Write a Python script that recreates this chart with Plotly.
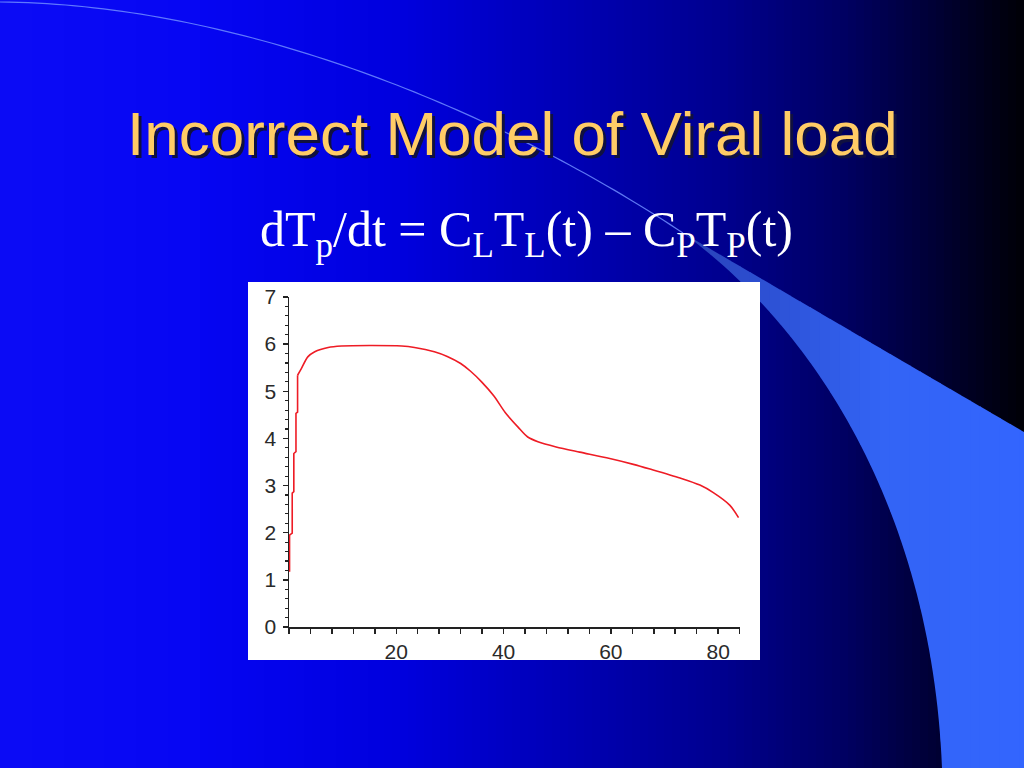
import plotly.graph_objects as go
import numpy as np

# ---- data ----
t_days = [0.1, 0.1, 0.6, 0.6, 0.9, 0.9, 1.3, 1.3, 1.6, 1.6, 2.3, 3.5, 4.8, 7.3, 9.8, 15.0,
          21.0, 23.4, 27.1, 29.5, 32.0, 33.8, 35.9, 38.2, 40.3, 42.7, 44.5, 46.4, 49.8,
          54.2, 59.2, 64.2, 67.3, 72.9, 76.6, 79.1, 82.2, 83.8]
viral_load = [1.17, 1.95, 1.99, 2.84, 2.87, 3.68, 3.72, 4.53, 4.56, 5.34, 5.48, 5.73, 5.84,
              5.93, 5.96, 5.97, 5.96, 5.93, 5.84, 5.74, 5.59, 5.43, 5.20, 4.90, 4.55, 4.24,
              4.03, 3.93, 3.82, 3.71, 3.59, 3.45, 3.35, 3.16, 3.01, 2.85, 2.58, 2.32]
x_tick_vals = [20, 40, 60, 80]
y_tick_vals = [0, 1, 2, 3, 4, 5, 6, 7]

title_text = "Incorrect Model of Viral load"
equation_text = ("dT<sub>p</sub>/dt = C<sub>L</sub>T<sub>L</sub>(t) \u2013 "
                 "C<sub>P</sub>T<sub>P</sub>(t)")

W, H = 1024, 768
N_STEP = 10  # the first points form the steep staircase rise


def px(x):
    return x / W


def py(y):
    return 1 - y / H


def interp_color(x, stops):
    xs = [s[0] for s in stops]
    cols = np.array([s[1] for s in stops], dtype=float)
    r = np.interp(x, xs, cols[:, 0])
    g = np.interp(x, xs, cols[:, 1])
    b = np.interp(x, xs, cols[:, 2])
    return f"rgb({int(r)},{int(g)},{int(b)})"


def bezier(p0, p1, p2, p3, n=60):
    out = []
    for i in range(n + 1):
        s = i / n
        a = (1 - s) ** 3
        b = 3 * (1 - s) ** 2 * s
        c = 3 * (1 - s) * s ** 2
        d = s ** 3
        out.append((a * p0[0] + b * p1[0] + c * p2[0] + d * p3[0],
                    a * p0[1] + b * p1[1] + c * p2[1] + d * p3[1]))
    return out


shapes = []

# background horizontal gradient
bg_stops = [(0, (12, 12, 246)), (200, (6, 6, 243)), (400, (0, 0, 222)), (590, (0, 0, 176)),
            (720, (0, 0, 144)), (850, (0, 0, 96)), (940, (0, 0, 50)), (1024, (0, 0, 6))]
step = 8
for x0 in range(0, W, step):
    shapes.append(dict(type="rect", xref="paper", yref="paper", layer="below",
                       x0=px(x0), x1=px(x0 + step + 0.5), y0=0, y1=1,
                       line=dict(width=0),
                       fillcolor=interp_color(x0 + step / 2, bg_stops)))

# light-blue wedge (clipped into vertical slabs for a gradient)
apex = (683, 233)
lower = bezier(apex, (822, 335), (932, 520), (942, 768))
wedge = [apex, (1024, 432), (1024, 768)] + lower[::-1][:-1]


def clip(poly, xv, keep_greater):
    out = []
    n = len(poly)
    for i in range(n):
        a = poly[i]
        b = poly[(i + 1) % n]
        ina = a[0] >= xv if keep_greater else a[0] <= xv
        inb = b[0] >= xv if keep_greater else b[0] <= xv
        if ina:
            out.append(a)
        if ina != inb:
            tt = (xv - a[0]) / (b[0] - a[0])
            out.append((xv, a[1] + tt * (b[1] - a[1])))
    return out


wedge_stops = [(683, (40, 64, 180)), (760, (45, 80, 210)), (880, (51, 100, 245)),
               (1024, (51, 102, 255))]
wstep = 10
for x0 in range(680, W, wstep):
    p = clip(wedge, x0, True)
    if len(p) < 3:
        continue
    p = clip(p, x0 + wstep + 0.6, False)
    if len(p) < 3:
        continue
    path = "M " + " L ".join(f"{px(a):.5f},{py(b):.5f}" for a, b in p) + " Z"
    shapes.append(dict(type="path", xref="paper", yref="paper", layer="below", path=path,
                       line=dict(width=0),
                       fillcolor=interp_color(x0 + wstep / 2, wedge_stops)))

# thin light arc from top-left to the wedge apex
arc = bezier((0, 2), (250, 4), (510, 118), apex, n=80)
arc_path = "M " + " L ".join(f"{px(a):.5f},{py(b):.5f}" for a, b in arc)
shapes.append(dict(type="path", xref="paper", yref="paper", layer="below", path=arc_path,
                   line=dict(width=1.2, color="rgba(110,140,255,0.85)")))

# white chart panel
shapes.append(dict(type="rect", xref="paper", yref="paper", layer="below",
                   x0=px(248), x1=px(760), y0=py(660), y1=py(282),
                   line=dict(width=0), fillcolor="white"))

fig = go.Figure()
# steep staircase rise (straight segments)
fig.add_trace(go.Scatter(x=t_days[:N_STEP], y=viral_load[:N_STEP], mode="lines",
                         line=dict(color="#ee1c25", width=1.6),
                         hoverinfo="skip", showlegend=False))
# smooth remainder of the curve
fig.add_trace(go.Scatter(x=t_days[N_STEP - 1:], y=viral_load[N_STEP - 1:], mode="lines",
                         line=dict(color="#ee1c25", width=1.6, shape="spline", smoothing=0.8),
                         hoverinfo="skip", showlegend=False))

axis_font = dict(family="Liberation Sans Narrow, Liberation Sans, Arial", size=21, color="#2a2a2a")

fig.update_layout(
    width=W, height=H,
    margin=dict(l=0, r=0, t=0, b=0, pad=0, autoexpand=False),
    paper_bgcolor="#0000c0",
    plot_bgcolor="rgba(0,0,0,0)",
    showlegend=False,
    shapes=shapes,
    xaxis=dict(domain=[px(289), px(739.6)], range=[0, 84], showgrid=False, zeroline=False,
               automargin=False, fixedrange=True,
               showline=True, linecolor="#222", linewidth=1.5,
               tickmode="array", tickvals=x_tick_vals, ticks="outside", ticklen=5,
               tickwidth=1.5, tickcolor="#222", tickfont=axis_font,
               minor=dict(dtick=4, tick0=0, ticks="outside", ticklen=5, tickwidth=1.5,
                          tickcolor="#222", showgrid=False)),
    yaxis=dict(domain=[py(627), py(297)], range=[0, 7], showgrid=False, zeroline=False,
               automargin=False, fixedrange=True,
               showline=True, linecolor="#222", linewidth=1.5,
               tickmode="array", tickvals=y_tick_vals, ticks="outside", ticklen=5,
               tickwidth=1.5, tickcolor="#222", tickfont=axis_font, ticklabelstandoff=2,
               minor=dict(dtick=0.2, tick0=0, ticks="outside", ticklen=3, tickwidth=1.2,
                          tickcolor="#222", showgrid=False)),
    annotations=[
        dict(text=title_text, xref="paper", yref="paper", x=px(515.5), y=py(136),
             xanchor="center", yanchor="middle", showarrow=False,
             font=dict(family="Liberation Sans, Arial", size=62, color="#101040")),
        dict(text=title_text, xref="paper", yref="paper", x=px(512.5), y=py(133),
             xanchor="center", yanchor="middle", showarrow=False,
             font=dict(family="Liberation Sans, Arial", size=62, color="#ffcc66")),
        dict(text=equation_text, xref="paper", yref="paper", x=px(526), y=py(233),
             xanchor="center", yanchor="middle", showarrow=False,
             font=dict(family="Liberation Serif, Times New Roman", size=50, color="white")),
    ],
)

fig.write_html("out.html",
               config=dict(displayModeBar=False, staticPlot=True),
               post_script="document.body.style.margin='0';"
                           "document.body.style.overflow='hidden';")
